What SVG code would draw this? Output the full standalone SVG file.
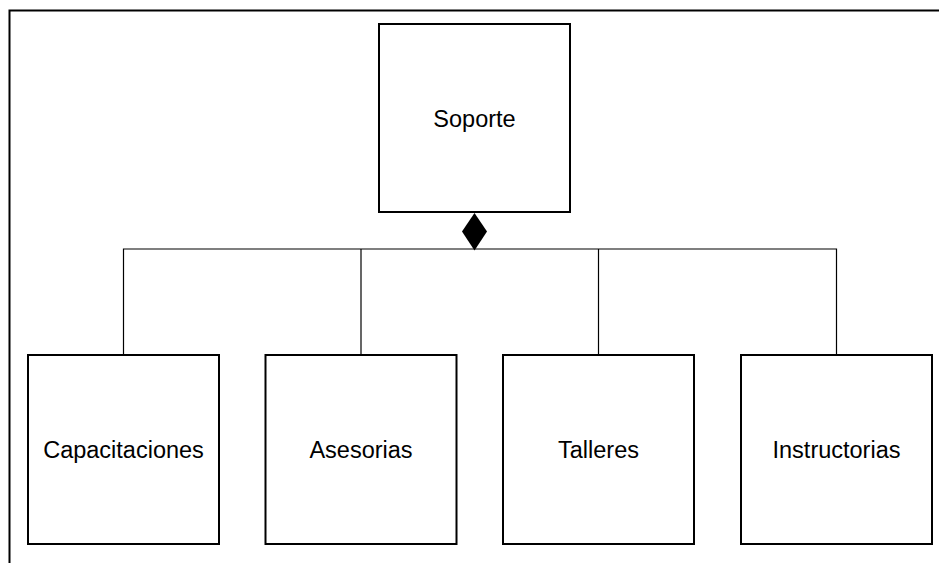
<svg xmlns="http://www.w3.org/2000/svg" width="939" height="563" viewBox="0 0 939 563">
<style>
.box{fill:#fff;stroke:#000;stroke-width:2}
.lbl{font-family:"Liberation Sans",Arial,sans-serif;font-size:23.5px;fill:#000;text-anchor:middle}
.con{fill:none;stroke:#000;stroke-width:1.2}
</style>
<rect width="939" height="563" fill="#fff"/>
<path d="M9.5,563 V10.5 H939" fill="none" stroke="#000" stroke-width="2"/>
<g id="connectors">
<path class="con" d="M123.5,355 V249 H836.5 V355"/>
<path class="con" d="M361,249 V355"/>
<path class="con" d="M598.5,249 V355"/>
<polygon points="474.5,213 487,231.5 474.5,250.5 462,231.5" fill="#000"/>
</g>
<g id="soporte"><rect class="box" x="379" y="24" width="191" height="188"/><text class="lbl" x="474.5" y="126.5">Soporte</text></g>
<g id="capacitaciones"><rect class="box" x="28" y="355" width="191" height="189"/><text class="lbl" x="123.5" y="457.5">Capacitaciones</text></g>
<g id="asesorias"><rect class="box" x="265.5" y="355" width="191" height="189"/><text class="lbl" x="361" y="457.5">Asesorias</text></g>
<g id="talleres"><rect class="box" x="503" y="355" width="191" height="189"/><text class="lbl" x="598.5" y="457.5">Talleres</text></g>
<g id="instructorias"><rect class="box" x="741" y="355" width="191" height="189"/><text class="lbl" x="836.5" y="457.5">Instructorias</text></g>
</svg>
